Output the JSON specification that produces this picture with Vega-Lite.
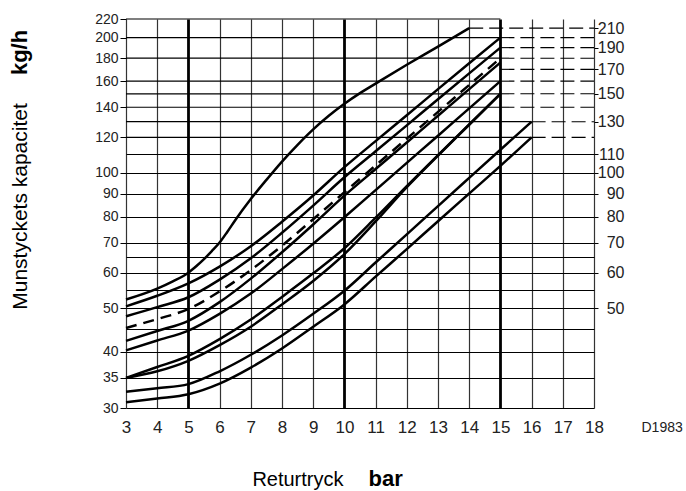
{
  "$schema": "https://vega.github.io/schema/vega-lite/v6.json",
  "width": 468,
  "height": 389,
  "autosize": {"type": "none"},
  "padding": {"left": 126, "top": 19, "right": 92, "bottom": 83},
  "background": "white",
  "config": {"font": "Liberation Sans", "view": {"stroke": null}},
  "datasets": {
    "gridSolid": [
      {"v": 120, "from": 3, "to": 16}, {"v": 130, "from": 3, "to": 16},
      {"v": 140, "from": 3, "to": 15}, {"v": 150, "from": 3, "to": 15},
      {"v": 160, "from": 3, "to": 15}, {"v": 180, "from": 3, "to": 15},
      {"v": 200, "from": 3, "to": 15}, {"v": 220, "from": 3, "to": 15}
    ],
    "gridDashed": [
      {"v": 120, "from": 16, "to": 18}, {"v": 130, "from": 16, "to": 18},
      {"v": 140, "from": 15, "to": 18}, {"v": 150, "from": 15, "to": 18},
      {"v": 160, "from": 15, "to": 18}, {"v": 170, "from": 15, "to": 18},
      {"v": 180, "from": 15, "to": 18}, {"v": 190, "from": 15, "to": 18},
      {"v": 200, "from": 15, "to": 18}, {"v": 210, "from": 14, "to": 18}
    ],
    "curves": [
      {"c": "1", "x": 3, "v": 52.3}, {"c": "1", "x": 4, "v": 55.3}, {"c": "1", "x": 4.5, "v": 57.4}, {"c": "1", "x": 5, "v": 60}, {"c": "1", "x": 5.25, "v": 62}, {"c": "1", "x": 5.5, "v": 64.3}, {"c": "1", "x": 5.75, "v": 67}, {"c": "1", "x": 6, "v": 70}, {"c": "1", "x": 6.25, "v": 74}, {"c": "1", "x": 6.5, "v": 78.5}, {"c": "1", "x": 7, "v": 87.5}, {"c": "1", "x": 7.5, "v": 96.5}, {"c": "1", "x": 8, "v": 106}, {"c": "1", "x": 8.5, "v": 115.5}, {"c": "1", "x": 9, "v": 125}, {"c": "1", "x": 9.5, "v": 134}, {"c": "1", "x": 10, "v": 142.5}, {"c": "1", "x": 10.5, "v": 150.5}, {"c": "1", "x": 11, "v": 158}, {"c": "1", "x": 12, "v": 174}, {"c": "1", "x": 13, "v": 191}, {"c": "1", "x": 14, "v": 210},
      {"c": "2", "x": 3, "v": 50.5}, {"c": "2", "x": 4, "v": 53.3}, {"c": "2", "x": 5, "v": 56.8}, {"c": "2", "x": 6, "v": 61.9}, {"c": "2", "x": 7, "v": 68.7}, {"c": "2", "x": 8, "v": 77.9}, {"c": "2", "x": 9, "v": 89.1}, {"c": "2", "x": 10, "v": 103}, {"c": "2", "x": 11, "v": 117.7}, {"c": "2", "x": 12, "v": 134.4}, {"c": "2", "x": 13, "v": 153.6}, {"c": "2", "x": 14, "v": 175.4}, {"c": "2", "x": 15, "v": 200},
      {"c": "3", "x": 3, "v": 48}, {"c": "3", "x": 4, "v": 50.3}, {"c": "3", "x": 5, "v": 52.9}, {"c": "3", "x": 6, "v": 57.9}, {"c": "3", "x": 7, "v": 64.6}, {"c": "3", "x": 8, "v": 73.6}, {"c": "3", "x": 9, "v": 84.6}, {"c": "3", "x": 10, "v": 97.8}, {"c": "3", "x": 11, "v": 111.7}, {"c": "3", "x": 12, "v": 127.6}, {"c": "3", "x": 13, "v": 145.8}, {"c": "3", "x": 14, "v": 166.5}, {"c": "3", "x": 15, "v": 190},
      {"c": "D", "x": 3, "v": 45.2}, {"c": "D", "x": 4, "v": 47.3}, {"c": "D", "x": 5, "v": 49.8}, {"c": "D", "x": 6, "v": 54.5}, {"c": "D", "x": 7, "v": 60.8}, {"c": "D", "x": 8, "v": 68.9}, {"c": "D", "x": 9, "v": 78.9}, {"c": "D", "x": 10, "v": 90.6}, {"c": "D", "x": 11, "v": 103.9}, {"c": "D", "x": 12, "v": 119.2}, {"c": "D", "x": 13, "v": 136.7}, {"c": "D", "x": 14, "v": 156.9}, {"c": "D", "x": 15, "v": 180},
      {"c": "5", "x": 3, "v": 42.3}, {"c": "5", "x": 4, "v": 44.5}, {"c": "5", "x": 5, "v": 46.9}, {"c": "5", "x": 6, "v": 51.6}, {"c": "5", "x": 7, "v": 58.2}, {"c": "5", "x": 8, "v": 66.6}, {"c": "5", "x": 9, "v": 76.8}, {"c": "5", "x": 10, "v": 89}, {"c": "5", "x": 11, "v": 102}, {"c": "5", "x": 12, "v": 116.9}, {"c": "5", "x": 13, "v": 134}, {"c": "5", "x": 14, "v": 153.6}, {"c": "5", "x": 15, "v": 176},
      {"c": "6", "x": 3, "v": 40.3}, {"c": "6", "x": 4, "v": 42.4}, {"c": "6", "x": 5, "v": 44.6}, {"c": "6", "x": 6, "v": 48.6}, {"c": "6", "x": 7, "v": 53.9}, {"c": "6", "x": 8, "v": 61.1}, {"c": "6", "x": 9, "v": 69.6}, {"c": "6", "x": 10, "v": 79.7}, {"c": "6", "x": 11, "v": 91.6}, {"c": "6", "x": 12, "v": 105.3}, {"c": "6", "x": 13, "v": 121}, {"c": "6", "x": 14, "v": 139.2}, {"c": "6", "x": 15, "v": 160},
      {"c": "7", "x": 3, "v": 35}, {"c": "7", "x": 4, "v": 37}, {"c": "7", "x": 5, "v": 39.2}, {"c": "7", "x": 6, "v": 42.7}, {"c": "7", "x": 7, "v": 47.2}, {"c": "7", "x": 8, "v": 53}, {"c": "7", "x": 9, "v": 59.8}, {"c": "7", "x": 10, "v": 68}, {"c": "7", "x": 11, "v": 79.5}, {"c": "7", "x": 12, "v": 93.5}, {"c": "7", "x": 13, "v": 109.5}, {"c": "7", "x": 14, "v": 128.2}, {"c": "7", "x": 15, "v": 150},
      {"c": "8", "x": 3, "v": 35}, {"c": "8", "x": 4, "v": 36.2}, {"c": "8", "x": 5, "v": 38.2}, {"c": "8", "x": 6, "v": 41.4}, {"c": "8", "x": 7, "v": 45.5}, {"c": "8", "x": 8, "v": 51}, {"c": "8", "x": 9, "v": 57.5}, {"c": "8", "x": 10, "v": 66}, {"c": "8", "x": 11, "v": 78}, {"c": "8", "x": 12, "v": 93}, {"c": "8", "x": 13, "v": 109.3}, {"c": "8", "x": 14, "v": 128}, {"c": "8", "x": 15, "v": 150},
      {"c": "9", "x": 3, "v": 32.6}, {"c": "9", "x": 4, "v": 33.2}, {"c": "9", "x": 5, "v": 33.9}, {"c": "9", "x": 6, "v": 36.2}, {"c": "9", "x": 7, "v": 39.4}, {"c": "9", "x": 8, "v": 43.5}, {"c": "9", "x": 9, "v": 48.6}, {"c": "9", "x": 10, "v": 54.7}, {"c": "9", "x": 11, "v": 63.2}, {"c": "9", "x": 12, "v": 73}, {"c": "9", "x": 13, "v": 84.4}, {"c": "9", "x": 14, "v": 97.5}, {"c": "9", "x": 15, "v": 112.6}, {"c": "9", "x": 16, "v": 130},
      {"c": "10", "x": 3, "v": 30.9}, {"c": "10", "x": 4, "v": 31.5}, {"c": "10", "x": 5, "v": 32.2}, {"c": "10", "x": 6, "v": 34}, {"c": "10", "x": 7, "v": 36.9}, {"c": "10", "x": 8, "v": 40.7}, {"c": "10", "x": 9, "v": 45.5}, {"c": "10", "x": 10, "v": 51}, {"c": "10", "x": 11, "v": 58.8}, {"c": "10", "x": 12, "v": 67.7}, {"c": "10", "x": 13, "v": 78.1}, {"c": "10", "x": 14, "v": 90}, {"c": "10", "x": 15, "v": 103.7}, {"c": "10", "x": 16, "v": 120}
    ]
  },
  "resolve": {"axis": {"x": "independent", "y": "independent"}},
  "layer": [
    {
      "data": {"name": "gridSolid"},
      "mark": {"type": "rule", "color": "black", "strokeWidth": 1.2},
      "encoding": {
        "x": {
          "field": "from", "type": "quantitative",
          "scale": {"domain": [3, 18], "nice": false, "zero": false},
          "axis": {
            "orient": "bottom",
            "values": [3, 4, 5, 6, 7, 8, 9, 10, 11, 12, 13, 14, 15, 16, 17, 18],
            "title": "Returtryck",
            "grid": true,
            "gridColor": {"condition": {"test": "datum.value === 5 || datum.value === 10 || datum.value === 15", "value": "black"}, "value": "#333"},
            "gridWidth": {"condition": {"test": "datum.value === 5 || datum.value === 10 || datum.value === 15", "value": 2.8}, "value": 1.2},
            "domain": false,
            "ticks": true,
            "tickSize": 0,
            "labelPadding": 11,
            "labelFontSize": 17,
            "labelColor": "#222",
            "labelFlush": false,
            "labelOverlap": false,
            "titleFontSize": 20,
            "titleFontWeight": "normal",
            "titleColor": "black",
            "titleX": 217,
            "titleY": 77,
            "titleAlign": "right",
            "titleBaseline": "alphabetic"
          }
        },
        "x2": {"field": "to"},
        "y": {
          "field": "v", "type": "quantitative",
          "scale": {"type": "log", "domain": [30, 220], "nice": false},
          "axis": {
            "orient": "left",
            "values": [30, 35, 40, 45, 50, 55, 60, 65, 70, 80, 90, 100, 110, 120, 140, 160, 180, 200, 220],
            "format": "d",
            "title": "Munstyckets kapacitet",
            "grid": true,
            "gridColor": "black",
            "gridWidth": 1.2,
            "gridOpacity": {"condition": {"test": "datum.value > 110", "value": 0}, "value": 1},
            "domain": false,
            "tickSize": 6,
            "tickColor": "black",
            "tickOpacity": {"condition": {"test": "indexof([45, 55, 65, 110], datum.value) >= 0", "value": 0}, "value": 1},
            "labelExpr": "indexof([45, 55, 65, 110], datum.value) >= 0 ? '' : datum.label",
            "labelPadding": 2,
            "labelFontSize": 14,
            "labelColor": "#222",
            "labelFlush": false,
            "labelOverlap": false,
            "titleFontSize": 21,
            "titleFontWeight": "normal",
            "titleColor": "black",
            "titleX": -100,
            "titleY": 187,
            "titleAlign": "center",
            "titleBaseline": "alphabetic"
          }
        }
      }
    },
    {
      "data": {"name": "gridDashed"},
      "mark": {"type": "rule", "color": "black", "strokeWidth": 1.1, "strokeDash": [14, 6]},
      "encoding": {
        "x": {
          "field": "from", "type": "quantitative",
          "scale": {"domain": [3, 18], "nice": false, "zero": false},
          "axis": {
            "orient": "bottom",
            "title": "bar",
            "labels": false,
            "ticks": false,
            "domain": false,
            "grid": false,
            "titleFontSize": 22,
            "titleFontWeight": "bold",
            "titleColor": "black",
            "titleX": 242,
            "titleY": 77,
            "titleAlign": "left",
            "titleBaseline": "alphabetic"
          }
        },
        "x2": {"field": "to"},
        "y": {
          "field": "v", "type": "quantitative",
          "scale": {"type": "log", "domain": [30, 220], "nice": false},
          "axis": {
            "orient": "right",
            "values": [50, 60, 70, 80, 90, 100, 110, 130, 150, 170, 190, 210],
            "format": "d",
            "grid": false,
            "domain": false,
            "tickSize": 4,
            "tickColor": "black",
            "labelAlign": "right",
            "labelPadding": 26,
            "labelFontSize": 16,
            "labelColor": "#222",
            "labelFlush": false,
            "labelOverlap": false,
            "title": "D1983",
            "titleAngle": 0,
            "titleFontSize": 14,
            "titleFontWeight": "normal",
            "titleColor": "#222",
            "titleX": 47,
            "titleY": 408,
            "titleAlign": "left",
            "titleBaseline": "middle"
          }
        }
      }
    },
    {
      "data": {"name": "curves"},
      "transform": [{"filter": "datum.c !== 'D'"}],
      "mark": {"type": "line", "color": "black", "strokeWidth": 2.5, "interpolate": "monotone"},
      "encoding": {
        "x": {"field": "x", "type": "quantitative", "scale": {"domain": [3, 18], "nice": false, "zero": false}, "axis": null},
        "y": {
          "field": "v", "type": "quantitative",
          "scale": {"type": "log", "domain": [30, 220], "nice": false},
          "axis": {
            "orient": "left",
            "title": "kg/h",
            "labels": false,
            "ticks": false,
            "domain": false,
            "grid": false,
            "titleFontSize": 22,
            "titleFontWeight": "bold",
            "titleColor": "black",
            "titleX": -100,
            "titleY": 33,
            "titleAlign": "center",
            "titleBaseline": "alphabetic"
          }
        },
        "detail": {"field": "c"}
      }
    },
    {
      "data": {"name": "curves"},
      "transform": [{"filter": "datum.c === 'D'"}],
      "mark": {"type": "line", "color": "black", "strokeWidth": 2.5, "strokeDash": [11, 7], "interpolate": "monotone"},
      "encoding": {
        "x": {"field": "x", "type": "quantitative", "scale": {"domain": [3, 18], "nice": false, "zero": false}, "axis": null},
        "y": {"field": "v", "type": "quantitative", "scale": {"type": "log", "domain": [30, 220], "nice": false}, "axis": null}
      }
    }
  ]
}
